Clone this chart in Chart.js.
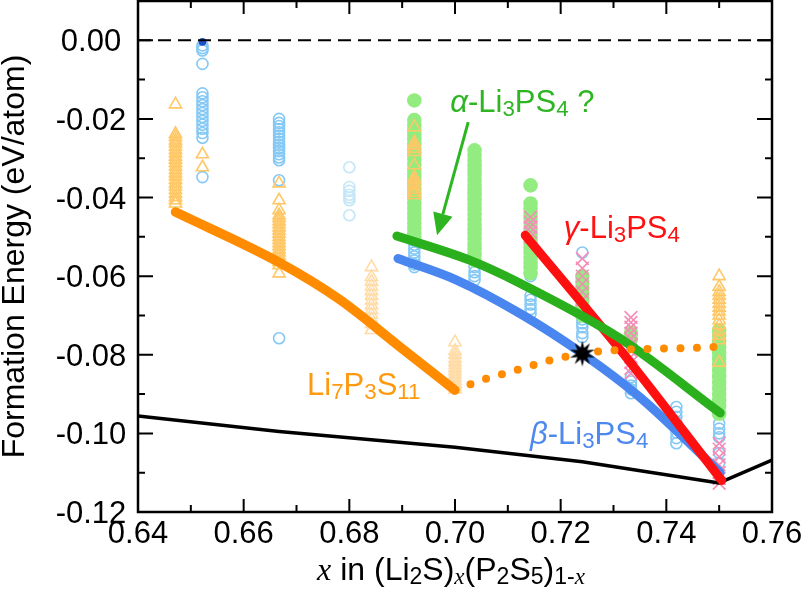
<!DOCTYPE html>
<html>
<head>
<meta charset="utf-8">
<script src="https://cdn.jsdelivr.net/npm/chart.js@4.4.1/dist/chart.umd.min.js"></script>
<style>html,body{margin:0;padding:0;background:#fff}</style>
</head>
<body>
<canvas id="chart" width="802" height="597"></canvas>
<script>
/* global Chart */

// axis ticks
const xTickValues = [0.64, 0.66, 0.68, 0.70, 0.72, 0.74, 0.76];
const xMinorTicks = [0.65, 0.67, 0.69, 0.71, 0.73, 0.75];
const yTickValues = [-0.12, -0.10, -0.08, -0.06, -0.04, -0.02, 0.00];
const yMinorTicks = [-0.11, -0.09, -0.07, -0.05, -0.03, -0.01];

// scatter columns: [x, [formation energies]]
const triangleCols = [
    [0.6471, [-0.0163, -0.0238, -0.0246, -0.0255, -0.0262, -0.0270, -0.0279, -0.0287, -0.0296, -0.0304, -0.0312, -0.0321, -0.0330, -0.0338, -0.0346, -0.0355, -0.0364, -0.0372, -0.0381, -0.0390, -0.0399, -0.0407, -0.0415]],
    [0.6522, [-0.0290, -0.0323]],
    [0.6667, [-0.0364, -0.0407, -0.0432, -0.0445, -0.0452, -0.0460, -0.0468, -0.0476, -0.0484, -0.0492, -0.0500, -0.0508, -0.0516, -0.0524, -0.0532, -0.0540, -0.0548, -0.0556, -0.0564, -0.0572, -0.0593]],
    [0.6923, [-0.0221, -0.0260, -0.0268, -0.0276, -0.0284, -0.0318, -0.0348, -0.0356, -0.0364, -0.0372, -0.0380, -0.0388, -0.0394]],
    [0.7500, [-0.0600, -0.0627, -0.0640, -0.0650, -0.0660, -0.0670, -0.0680, -0.0690, -0.0700, -0.0712, -0.0725, -0.0740, -0.0752, -0.0763, -0.0820]]
];
const paleTriangleCols = [
    [0.6842, [-0.0577, -0.0602, -0.0614, -0.0626, -0.0638, -0.0650, -0.0662, -0.0674, -0.0686, -0.0698, -0.0710, -0.0722, -0.0737]],
    [0.7000, [-0.0768, -0.0790, -0.0800, -0.0810, -0.0818, -0.0826, -0.0834, -0.0842, -0.0850, -0.0858, -0.0866, -0.0874, -0.0882, -0.0888]]
];
const circleCols = [
    [0.6522, [-0.0013, -0.0020, -0.0026, -0.0060, -0.0135, -0.0145, -0.0155, -0.0165, -0.0175, -0.0185, -0.0195, -0.0205, -0.0215, -0.0225, -0.0236, -0.0248, -0.0348]],
    [0.6667, [-0.0200, -0.0210, -0.0218, -0.0226, -0.0234, -0.0242, -0.0250, -0.0258, -0.0266, -0.0274, -0.0282, -0.0290, -0.0298, -0.0305, -0.0356, -0.0758]],
    [0.6923, [-0.0500, -0.0510, -0.0520, -0.0530, -0.0540, -0.0550, -0.0560, -0.0570, -0.0577]],
    [0.7037, [-0.0577, -0.0590, -0.0600, -0.0610]],
    [0.7143, [-0.0600, -0.0650, -0.0660, -0.0672, -0.0684, -0.0695]],
    [0.7241, [-0.0540, -0.0680, -0.0690, -0.0700, -0.0710, -0.0720, -0.0730, -0.0745, -0.0755]],
    [0.7333, [-0.0857, -0.0868, -0.0878, -0.0888, -0.0898]],
    [0.7419, [-0.0933, -0.0945, -0.0958, -0.0970, -0.0985, -0.0998, -0.1012, -0.1025]],
    [0.7500, [-0.0806, -0.0815, -0.0975, -0.0988, -0.1000, -0.1010, -0.1050, -0.1075]]
];
const paleCircleCols = [
    [0.6800, [-0.0323, -0.0373, -0.0383, -0.0393, -0.0400, -0.0407, -0.0445]]
];
const stableCircle = [[0.6522, [-0.0004]]];
const greenCols = [
    [0.6923, [-0.0153, -0.0203, -0.0215, -0.0228, -0.0240, -0.0252, -0.0265, -0.0278, -0.0290, -0.0302, -0.0315, -0.0328, -0.0340, -0.0352, -0.0365, -0.0378, -0.0390, -0.0402, -0.0415, -0.0428, -0.0440, -0.0452, -0.0465, -0.0478, -0.0490, -0.0500]],
    [0.7037, [-0.0280, -0.0292, -0.0305, -0.0318, -0.0330, -0.0342, -0.0355, -0.0368, -0.0380, -0.0392, -0.0405, -0.0418, -0.0430, -0.0442, -0.0455, -0.0468, -0.0480, -0.0492, -0.0505, -0.0518, -0.0530, -0.0545, -0.0560]],
    [0.7143, [-0.0369, -0.0415, -0.0428, -0.0440, -0.0452, -0.0465, -0.0478, -0.0490, -0.0502, -0.0515, -0.0528, -0.0540, -0.0552, -0.0565, -0.0578, -0.0593]],
    [0.7241, [-0.0600, -0.0615, -0.0630, -0.0645, -0.0660, -0.0675, -0.0690, -0.0700]],
    [0.7333, [-0.0745, -0.0760]],
    [0.7500, [-0.0737, -0.0750, -0.0765, -0.0780, -0.0795, -0.0810, -0.0825, -0.0840, -0.0855, -0.0870, -0.0885, -0.0900, -0.0915, -0.0930, -0.0950]]
];
const crossCols = [
    [0.7143, [-0.0450, -0.0463, -0.0475, -0.0488, -0.0500]],
    [0.7241, [-0.0555, -0.0580, -0.0600, -0.0620, -0.0640, -0.0660]],
    [0.7333, [-0.0705, -0.0718, -0.0730, -0.0745, -0.0760, -0.0775, -0.0790, -0.0805, -0.0820, -0.0835, -0.0847]],
    [0.7500, [-0.1025, -0.1040, -0.1060, -0.1080, -0.1100, -0.1115, -0.1127]]
];

// lines
const zeroX = [0.64, 0.76];
const zeroY = [0, 0];
const hullX = [0.64, 0.6667, 0.70, 0.7241, 0.75, 0.76];
const hullY = [-0.0956, -0.0995, -0.1035, -0.1072, -0.1126, -0.1068];
const li7X = [0.6471, 0.6667, 0.678, 0.6896, 0.70];
const li7Y = [-0.0437, -0.0565, -0.0658, -0.0780, -0.0890];
const dotX = [0.70, 0.7057, 0.7117, 0.718, 0.7241, 0.7307, 0.7439, 0.75];
const dotY = [-0.0890, -0.0862, -0.0839, -0.0814, -0.0797, -0.0788, -0.0783, -0.0780];
const betaX = [0.6892, 0.7003, 0.7123, 0.7241, 0.735, 0.7502];
const betaY = [-0.0555, -0.0610, -0.0695, -0.0797, -0.0908, -0.1100];
const alphaX = [0.689, 0.7029, 0.7123, 0.7312, 0.7502];
const alphaY = [-0.0498, -0.0560, -0.0618, -0.0758, -0.0948];
const gammaX = [0.7133, 0.7318, 0.7505];
const gammaY = [-0.0496, -0.0796, -0.1120];
const starX = [0.7241];
const starY = [-0.0797];

const SANS = '"Liberation Sans", Arial, Helvetica, sans-serif';
const SERIF = '"Liberation Serif", "Times New Roman", serif';

function colPoints(cols) {
    return cols.flatMap(([x, ys]) => ys.map((y) => ({ x, y })));
}

function xyPoints(xs, ys) {
    return xs.map((x, i) => ({ x, y: ys[i] }));
}

function makeStar(r1, r2, n) {
    const c = document.createElement('canvas');
    c.width = c.height = 2 * r1 + 2;
    const g = c.getContext('2d');
    g.beginPath();
    for (let i = 0; i < 2 * n; i++) {
        const r = i % 2 ? r2 : r1;
        const a = -Math.PI / 2 + i * Math.PI / n;
        g.lineTo(r1 + 1 + r * Math.cos(a), r1 + 1 + r * Math.sin(a));
    }
    g.closePath();
    g.fillStyle = '#000';
    g.fill();
    return c;
}

function lineSet(xs, ys, color, width, order, extra) {
    return Object.assign({
        type: 'line',
        data: xyPoints(xs, ys),
        borderColor: color,
        borderWidth: width,
        pointRadius: 0,
        fill: false,
        borderCapStyle: 'round',
        borderJoinStyle: 'round',
        cubicInterpolationMode: 'monotone',
        order
    }, extra || {});
}

function markerSet(cols, style, color, fillColor, radius, order) {
    return {
        data: colPoints(cols),
        pointStyle: style,
        pointRadius: radius,
        pointBorderWidth: 1.6,
        pointBorderColor: color,
        pointBackgroundColor: fillColor,
        borderColor: color,
        backgroundColor: fillColor,
        showLine: false,
        order
    };
}

// text with sub/italic parts: kind '' normal, 'i' italic, 's' sub, 'x' serif italic, 'xs' serif italic sub
function drawRich(ctx, parts, x, y, size, color, align) {
    const fontFor = (k) => {
        const sub = k.includes('s');
        const sz = sub ? size * 0.72 : size;
        if (k.includes('x')) return `italic ${sz}px ${SERIF}`;
        return `${k.includes('i') ? 'italic ' : ''}${sz}px ${SANS}`;
    };
    ctx.save();
    ctx.fillStyle = color;
    ctx.textBaseline = 'alphabetic';
    ctx.textAlign = 'left';
    const widths = parts.map(([t, k]) => { ctx.font = fontFor(k); return ctx.measureText(t).width; });
    const total = widths.reduce((a, b) => a + b, 0);
    let cx = align === 'center' ? x - total / 2 : x;
    parts.forEach(([t, k], i) => {
        ctx.font = fontFor(k);
        ctx.fillText(t, cx, y + (k.includes('s') ? size * 0.12 : 0));
        cx += widths[i];
    });
    ctx.restore();
}

function fmt(v) {
    return Math.abs(v) < 1e-9 ? '0.00' : v.toFixed(2);
}

const framePlugin = {
    id: 'frame',
    afterDraw(chart) {
        const { ctx, chartArea: a, scales } = chart;
        const xs = scales.x, ys = scales.y;
        ctx.save();
        ctx.strokeStyle = '#000';
        ctx.lineWidth = 2.5;
        ctx.strokeRect(a.left, a.top, a.right - a.left, a.bottom - a.top);
        ctx.lineWidth = 2;
        ctx.beginPath();
        const xt = xTickValues.map((v) => [v, 13]).concat(xMinorTicks.map((v) => [v, 7]));
        xt.forEach(([v, len]) => {
            const px = xs.getPixelForValue(v);
            ctx.moveTo(px, a.bottom); ctx.lineTo(px, a.bottom - len);
            ctx.moveTo(px, a.top); ctx.lineTo(px, a.top + len);
        });
        const yt = yTickValues.map((v) => [v, 15]).concat(yMinorTicks.map((v) => [v, 7]));
        yt.forEach(([v, len]) => {
            const py = ys.getPixelForValue(v);
            ctx.moveTo(a.left, py); ctx.lineTo(a.left + len, py);
            ctx.moveTo(a.right, py); ctx.lineTo(a.right - len, py);
        });
        ctx.stroke();

        // tick labels
        ctx.fillStyle = '#000';
        ctx.font = `31px ${SANS}`;
        ctx.textBaseline = 'alphabetic';
        ctx.textAlign = 'center';
        xTickValues.forEach((v) => ctx.fillText(fmt(v), xs.getPixelForValue(v), 543));
        yTickValues.forEach((v) => ctx.fillText(fmt(v), 91, ys.getPixelForValue(v) + 11));

        // axis titles
        ctx.save();
        ctx.translate(15, (a.top + a.bottom) / 2);
        ctx.rotate(-Math.PI / 2);
        ctx.textAlign = 'center';
        ctx.textBaseline = 'middle';
        ctx.font = `32px ${SANS}`;
        ctx.fillText('Formation Energy (eV/atom)', 0, 0);
        ctx.restore();

        drawRich(ctx, [['x', 'x'], [' in (Li', ''], ['2', 's'], ['S)', ''], ['x', 'xs'], ['(P', ''], ['2', 's'], ['S', ''], ['5', 's'], [')', ''], ['1-', 's'], ['x', 'xs']],
            (a.left + a.right) / 2 - 4, 580, 32, '#000', 'center');
        ctx.restore();
    }
};

const labelPlugin = {
    id: 'labels',
    afterDatasetsDraw(chart) {
        const { ctx, scales } = chart;
        const X = (v) => scales.x.getPixelForValue(v);
        const Y = (v) => scales.y.getPixelForValue(v);
        const green = '#2db522';

        drawRich(ctx, [['α', 'i'], ['-Li', ''], ['3', 's'], ['PS', ''], ['4', 's'], [' ?', '']], X(0.6991), Y(-0.0183), 31, green);
        drawRich(ctx, [['γ', 'i'], ['-Li', ''], ['3', 's'], ['PS', ''], ['4', 's']], X(0.7206), Y(-0.0503), 31, '#ff1111');
        drawRich(ctx, [['β', 'i'], ['-Li', ''], ['3', 's'], ['PS', ''], ['4', 's']], X(0.7142), Y(-0.1027), 31, '#4d88ee');
        drawRich(ctx, [['Li', ''], ['7', 's'], ['P', ''], ['3', 's'], ['S', ''], ['11', 's']], X(0.672), Y(-0.0903), 31, '#ff9a10');

        // arrow to alpha line
        const x0 = X(0.7025), y0 = Y(-0.0208), x1 = X(0.6966), y1 = Y(-0.0496);
        const ang = Math.atan2(y1 - y0, x1 - x0);
        const hl = 22, hw = 10;
        const bx = x1 - hl * Math.cos(ang), by = y1 - hl * Math.sin(ang);
        ctx.save();
        ctx.strokeStyle = green;
        ctx.fillStyle = green;
        ctx.lineWidth = 3;
        ctx.beginPath();
        ctx.moveTo(x0, y0);
        ctx.lineTo(bx, by);
        ctx.stroke();
        ctx.beginPath();
        ctx.moveTo(x1, y1);
        ctx.lineTo(bx + hw * Math.sin(ang), by - hw * Math.cos(ang));
        ctx.lineTo(bx - hw * Math.sin(ang), by + hw * Math.cos(ang));
        ctx.closePath();
        ctx.fill();
        ctx.restore();
    }
};

new Chart(document.getElementById('chart').getContext('2d'), {
    type: 'scatter',
    data: {
        datasets: [
            markerSet(circleCols, 'circle', '#84c8f5', 'rgba(0,0,0,0)', 5.5, 13),
            markerSet(paleCircleCols, 'circle', '#c4e7f8', 'rgba(0,0,0,0)', 5.5, 14),
            markerSet(stableCircle, 'circle', '#2050c8', '#2050c8', 3, 12),
            markerSet(greenCols, 'circle', '#93ec80', '#93ec80', 6.5, 11),
            markerSet(paleTriangleCols, 'triangle', '#ffdba6', 'rgba(0,0,0,0)', 7, 10),
            markerSet(triangleCols, 'triangle', '#ffc766', 'rgba(0,0,0,0)', 7, 9),
            markerSet(crossCols, 'crossRot', '#f58cb8', 'rgba(0,0,0,0)', 9, 8),
            lineSet(zeroX, zeroY, '#000', 2, 7, { borderDash: [13, 7], borderCapStyle: 'butt' }),
            lineSet(hullX, hullY, '#000', 3.5, 6, { cubicInterpolationMode: 'default', tension: 0 }),
            lineSet(li7X, li7Y, '#ff8c00', 9.5, 5),
            lineSet(betaX, betaY, '#4a86f0', 9, 4),
            lineSet(gammaX, gammaY, '#ff1010', 9, 3),
            lineSet(alphaX, alphaY, '#2ab01c', 9, 2),
            lineSet(dotX, dotY, '#ff8c00', 8, 1, { borderDash: [0, 16.5] }),
            {
                data: xyPoints(starX, starY),
                pointStyle: makeStar(13, 6, 10),
                pointRadius: 13,
                showLine: false,
                order: 0
            }
        ]
    },
    options: {
        responsive: false,
        animation: false,
        devicePixelRatio: 1,
        layout: { autoPadding: false, padding: { top: 1, right: 30, left: 0, bottom: 0 } },
        plugins: { legend: { display: false }, tooltip: { enabled: false } },
        scales: {
            x: {
                type: 'linear',
                min: 0.64,
                max: 0.76,
                grid: { display: false, drawTicks: false },
                border: { display: false },
                ticks: { display: false },
                afterFit: (s) => { s.height = 85; }
            },
            y: {
                type: 'linear',
                min: -0.12,
                max: 0.01,
                grid: { display: false, drawTicks: false },
                border: { display: false },
                ticks: { display: false },
                afterFit: (s) => { s.width = 138; }
            }
        }
    },
    plugins: [framePlugin, labelPlugin]
});
</script>
</body>
</html>
